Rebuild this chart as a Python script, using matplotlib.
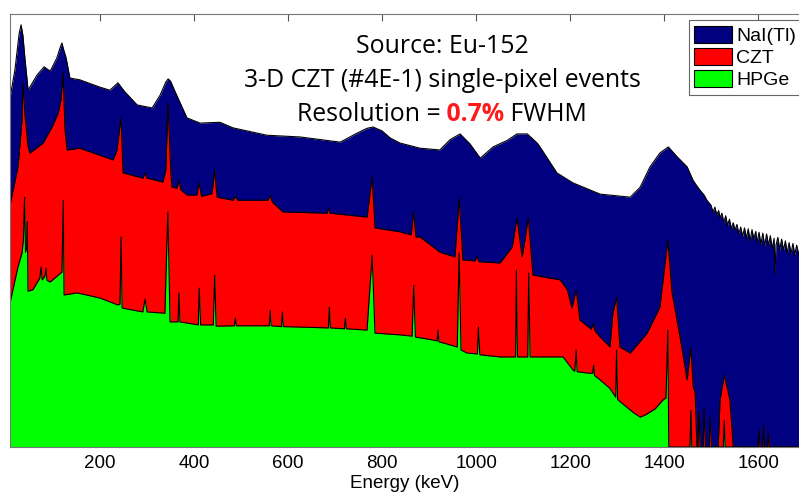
import matplotlib
matplotlib.use("Agg")
import matplotlib.pyplot as plt
from matplotlib.patches import Patch

# Eu-152 spectra (energy in keV, counts in arbitrary units, 0-100)
nai_kev = [8.5, 19, 28, 32, 36, 40, 47, 66, 81, 94,
           108, 116, 119, 122, 128, 136, 157, 200, 221, 238,
           253, 279, 311, 328, 340, 345, 350, 360, 385, 413,
           455, 483, 555, 626, 711, 747, 768, 781, 800, 817,
           838, 881, 923, 945, 966, 987, 1009, 1036, 1066, 1087,
           1109, 1130, 1136, 1172, 1206, 1264, 1328, 1349, 1370, 1391,
           1409, 1428, 1449, 1462, 1475, 1485, 1491, 1500, 1504, 1508,
           1512, 1516, 1519, 1523, 1527, 1531, 1535, 1539, 1543, 1547,
           1551, 1555, 1559, 1563, 1567, 1571, 1575, 1579, 1583, 1587,
           1591, 1595, 1598, 1602, 1606, 1610, 1614, 1618, 1622, 1626,
           1630, 1634, 1636, 1638, 1642, 1646, 1650, 1654, 1658, 1662,
           1666, 1670, 1674, 1678, 1682, 1687]
nai_counts = [80.6, 87.1, 95.5, 97.5, 95.0, 90.0, 82.4, 85.9, 87.8, 86.8,
              89.8, 92.5, 93.3, 92.0, 89.8, 85.2, 84.8, 83.1, 82.4, 84.1,
              82.0, 79.0, 78.3, 81.3, 84.3, 85.0, 84.5, 82.0, 76.0, 74.8,
              75.0, 73.7, 72.0, 71.6, 70.4, 72.5, 73.6, 73.9, 73.0, 71.4,
              70.2, 69.0, 68.6, 71.0, 72.3, 70.0, 66.7, 69.3, 70.8, 72.3,
              72.3, 70.2, 69.3, 63.3, 61.0, 58.4, 57.7, 60.0, 64.7, 67.9,
              69.3, 67.0, 64.7, 61.5, 59.5, 58.2, 57.0, 55.8, 54.2, 55.4,
              53.6, 54.6, 52.9, 54.0, 51.8, 53.4, 51.2, 52.6, 50.4, 51.8,
              50.1, 51.4, 49.2, 50.8, 48.6, 50.6, 48.2, 50.4, 47.6, 50.2,
              48.0, 49.8, 47.2, 49.6, 46.8, 49.4, 46.4, 49.2, 46.6, 48.8,
              45.8, 48.2, 40.0, 46.6, 48.4, 45.6, 48.0, 45.4, 47.6, 44.8,
              47.2, 44.6, 47.0, 44.4, 46.6, 44.2]

czt_kev = [8.5, 25.5, 34, 36, 40, 47, 51, 79, 98, 111,
           117, 121.5, 125.5, 130, 157, 228, 236, 244.7, 249, 291.5,
           296, 300, 334, 340, 344.5, 351, 353, 364, 368, 372,
           385, 406, 411, 416, 438, 444, 449, 483, 488, 493,
           557, 562, 567, 589, 683, 686, 689, 768, 779, 785,
           838, 862, 867, 872, 881, 923, 955, 964, 972, 998,
           1002, 1006, 1051, 1077, 1087, 1098, 1104, 1111, 1121, 1179,
           1194, 1204, 1213, 1221, 1245, 1249, 1253, 1264, 1285, 1291,
           1299, 1306, 1328, 1364, 1391, 1408, 1417, 1434, 1449, 1457,
           1462, 1466, 1470, 1472, 1474, 1477, 1483, 1485, 1488, 1496,
           1498, 1501, 1515, 1519, 1528, 1540, 1547, 1600, 1602, 1604,
           1610, 1612, 1614, 1620, 1622, 1624, 1687]
czt_counts = [55.9, 64.7, 75.5, 84.0, 77.1, 69.3, 67.9, 70.2, 73.9, 77.1,
              80.1, 86.4, 73.2, 68.6, 69.0, 66.3, 68.6, 76.2, 63.3, 62.1,
              63.3, 62.1, 61.2, 64.0, 79.4, 62.8, 60.0, 59.8, 61.7, 59.4,
              58.2, 58.2, 61.0, 57.9, 58.5, 64.0, 57.7, 57.0, 57.9, 57.0,
              57.0, 58.0, 56.5, 54.3, 54.0, 55.2, 54.0, 53.1, 62.4, 50.6,
              49.7, 49.0, 54.3, 48.5, 48.5, 45.0, 43.9, 57.5, 43.2, 43.0,
              44.1, 42.8, 42.5, 46.2, 52.9, 43.9, 47.8, 53.1, 39.7, 38.6,
              36.3, 32.1, 36.3, 29.3, 27.2, 28.5, 26.8, 25.4, 23.1, 30.9,
              34.6, 23.1, 21.7, 26.3, 32.3, 47.8, 35.6, 25.4, 15.5, 23.1,
              14.0, 12.5, 0, 0, 8, 0, 0, 9, 0, 0,
              7, 0, 0, 10.9, 16.6, 10.9, 0, 0, 4, 0,
              0, 5, 0, 0, 3, 0, 0]

hpge_kev = [8.5, 25.5, 34, 37, 39.5, 41.5, 44, 45.4, 46.8, 57,
            72, 74.5, 77, 83, 85, 87, 94, 119, 121.8, 123.5,
            151, 200, 238, 242.5, 244.7, 247, 291, 295.9, 300, 338,
            344.3, 349, 366, 367.8, 370, 409, 411.1, 414, 441, 444,
            447, 486, 488, 490, 560, 562, 564, 586, 588, 590,
            626, 686, 688, 690, 720, 722, 724, 768, 778.9, 785,
            838, 864, 867.4, 871, 909, 917, 919, 921, 960, 964,
            968, 981, 1003, 1005, 1008, 1051, 1084, 1085.8, 1088, 1110,
            1112, 1115, 1185, 1206, 1210, 1212.9, 1215, 1236, 1248, 1250,
            1252, 1264, 1285, 1297, 1299, 1301, 1306, 1334, 1349, 1360,
            1381, 1398, 1404, 1408, 1410, 1455, 1457, 1459, 1526, 1528,
            1530, 1687]
hpge_counts = [33.3, 41.6, 44.8, 47.8, 57.7, 45.0, 46.0, 52.0, 36.0, 36.3,
               39.0, 41.6, 38.6, 39.5, 41.3, 38.5, 38.1, 40.4, 57.0, 35.1,
               35.6, 34.4, 32.8, 33.0, 48.5, 32.1, 31.2, 34.2, 31.2, 30.9,
               54.3, 28.9, 28.9, 35.6, 28.9, 28.2, 36.7, 28.2, 28.2, 39.7,
               27.9, 28.0, 29.8, 28.0, 28.0, 31.6, 28.0, 27.8, 31.2, 27.8,
               27.7, 27.5, 32.3, 27.5, 27.3, 29.8, 27.3, 27.0, 44.3, 26.3,
               25.9, 25.6, 37.4, 25.4, 24.7, 24.5, 27.0, 24.3, 23.1, 44.8,
               22.4, 21.7, 21.5, 27.7, 21.3, 20.8, 20.8, 40.9, 20.8, 20.8,
               40.2, 20.8, 20.8, 17.8, 17.5, 22.4, 17.4, 17.1, 17.0, 18.9,
               16.5, 15.5, 13.5, 11.5, 22.4, 11.0, 10.5, 8.0, 6.9, 7.4,
               8.8, 10.9, 11.3, 27.0, 0, 0, 8.5, 0, 0, 6.2,
               0, 0]

labels = ["NaI(Tl)", "CZT", "HPGe"]
colors = ["#000080", "#ff0000", "#00ff00"]
xticks = [200, 400, 600, 800, 1000, 1200, 1400, 1600]

fig = plt.figure(figsize=(7.99, 4.92), dpi=100)
ax = fig.add_axes([10 / 799, 45 / 492, 789 / 799, 433 / 492])

spectra = [(nai_kev, nai_counts), (czt_kev, czt_counts), (hpge_kev, hpge_counts)]
for (x, y), c in zip(spectra, colors):
    ax.fill_between(x, y, 0, color=c, lw=0)
    ax.plot(x, y, color="k", lw=0.8)

ax.set_xlim(8.5, 1687)
ax.set_ylim(0, 100)
ax.set_yticks([])
ax.set_xticks(xticks)
ax.set_axisbelow(True)
ax.tick_params(axis="x", direction="in", top=True, length=5, width=0.8,
               color="#555555", labelsize=13.5, pad=6)
for lbl in ax.get_xticklabels():
    lbl.set_fontfamily("Liberation Sans")
ax.spines["right"].set_visible(False)
for s in ["left", "top", "bottom"]:
    ax.spines[s].set_color("#777777")
    ax.spines[s].set_linewidth(0.8)
ax.set_xlabel("Energy (keV)", fontsize=13.5, family="Liberation Sans", labelpad=2)

handles = [Patch(facecolor=c, edgecolor="k", lw=0.8) for c in colors]
leg = ax.legend(handles, labels, loc="upper right",
                bbox_to_anchor=(1.0 + 3 / 799, 1 - 20 / 492),
                bbox_transform=fig.transFigure, borderaxespad=0,
                prop={"family": "Liberation Sans", "size": 14},
                handlelength=1.95, handleheight=1.0, handletextpad=0.2,
                labelspacing=0.13, borderpad=0.3, fancybox=False,
                framealpha=1, edgecolor="#666666")
leg.get_frame().set_linewidth(0.8)

# annotation text, centred at x = 442 px
fs = 17.9
cx = 442 / 799
fig.text(cx, 1 - 53 / 492, "Source: Eu-152", ha="center", va="baseline",
         family="Open Sans", fontsize=fs)
fig.text(cx, 1 - 87 / 492, "3-D CZT (#4E-1) single-pixel events",
         ha="center", va="baseline", family="Open Sans", fontsize=fs)
t1 = fig.text(cx, 1 - 121 / 492, "Resolution =", ha="left", va="baseline",
              family="Open Sans", fontsize=fs)
t2 = ax.annotate(" 0.7%", xy=(1, 0), xycoords=t1, va="bottom", ha="left",
                 family="Open Sans", fontsize=fs, color="#ff1a1a", weight="bold")
t3 = ax.annotate(" FWHM", xy=(1, 0), xycoords=t2, va="bottom", ha="left",
                 family="Open Sans", fontsize=fs)

# shift the three-part line so that it is centred too
fig.canvas.draw()
x0 = t1.get_window_extent().x0
x1 = t3.get_window_extent().x1
t1.set_x((442 - (x1 - x0) / 2) / 799)

fig.savefig("out.png", dpi=100)
